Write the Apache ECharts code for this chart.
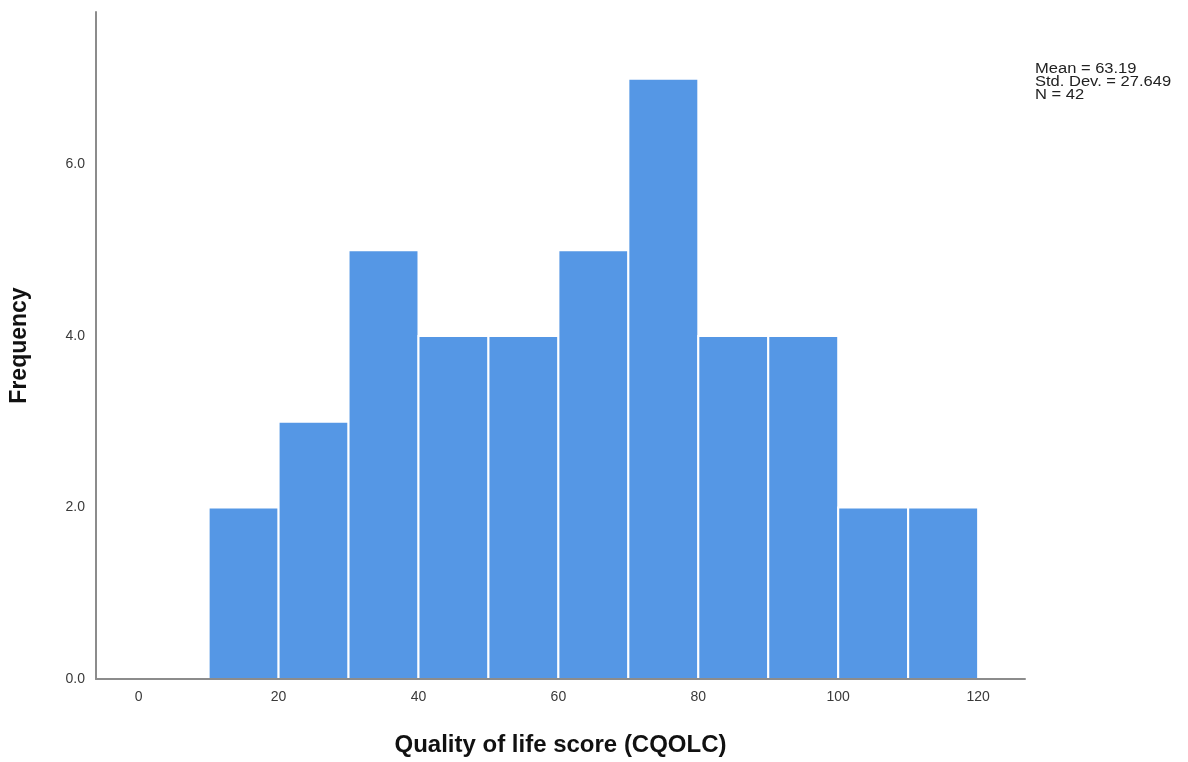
<!DOCTYPE html>
<html>
<head>
<meta charset="utf-8">
<script src="https://cdn.jsdelivr.net/npm/echarts@6/dist/echarts.min.js"></script>
<style>
  html, body { margin: 0; padding: 0; background: #fff; }
  #chart { width: 1188px; height: 762px; }
</style>
</head>
<body>
<div id="chart"></div>
<script>
// Histogram bins (lower edge, upper edge) and their counts
const binStarts = [10, 20, 30, 40, 50, 60, 70, 80, 90, 100, 110];
const binEnds   = [20, 30, 40, 50, 60, 70, 80, 90, 100, 110, 120];
const counts    = [2, 3, 5, 4, 4, 5, 7, 4, 4, 2, 2];
const xTicks = [0, 20, 40, 60, 80, 100, 120];
const yTicks = [0, 2, 4, 6];
const statsLines = ['Mean = 63.19', 'Std. Dev. = 27.649', 'N = 42'];

const FONT = '"Liberation Sans", Arial, sans-serif';
const chart = echarts.init(document.getElementById('chart'), null, { renderer: 'canvas' });

const data = binStarts.map((s, i) => [s, binEnds[i], counts[i]]);

chart.setOption({
  animation: false,
  backgroundColor: '#ffffff',
  grid: { left: 94, right: 163, top: 12, bottom: 81, containLabel: false },
  xAxis: {
    type: 'value',
    min: -6.1,
    max: 126.7,
    z: 5,
    name: 'Quality of life score (CQOLC)',
    nameLocation: 'middle',
    nameGap: 54,
    nameTextStyle: { fontFamily: FONT, fontSize: 24, fontWeight: 'bold', color: '#111' },
    axisLine: { show: true, onZero: false, lineStyle: { color: '#8c8c8c', width: 2 } },
    axisTick: { show: false },
    splitLine: { show: false },
    axisLabel: {
      customValues: xTicks,
      margin: 11,
      fontFamily: FONT, fontSize: 14, color: '#3a3a3a'
    }
  },
  yAxis: {
    type: 'value',
    min: 0,
    max: 7.78,
    z: 5,
    name: 'Frequency',
    nameLocation: 'middle',
    nameGap: 65,
    nameRotate: 90,
    nameTextStyle: { fontFamily: FONT, fontSize: 23, fontWeight: 'bold', color: '#111' },
    axisLine: { show: true, onZero: false, lineStyle: { color: '#8c8c8c', width: 2 } },
    axisTick: { show: false },
    splitLine: { show: false },
    axisLabel: {
      customValues: yTicks,
      formatter: v => v.toFixed(1),
      margin: 11,
      fontFamily: FONT, fontSize: 14, color: '#3a3a3a'
    }
  },
  graphic: [{
    type: 'text',
    left: 1035,
    top: 62,
    scaleX: 1.18,
    originX: 0,
    style: {
      text: statsLines.join('\n'),
      fontFamily: FONT,
      fontSize: 14,
      lineHeight: 13,
      fill: '#222'
    }
  }],
  series: [{
    type: 'custom',
    data: data,
    encode: { x: [0, 1], y: 2 },
    renderItem: function (params, api) {
      const p0 = api.coord([api.value(0), 0]);
      const p1 = api.coord([api.value(1), api.value(2)]);
      return {
        type: 'rect',
        shape: { x: p0[0], y: p1[1], width: p1[0] - p0[0], height: p0[1] - p1[1] },
        style: { fill: '#5597e5', stroke: '#ffffff', lineWidth: 2 }
      };
    }
  }]
});
</script>
</body>
</html>
